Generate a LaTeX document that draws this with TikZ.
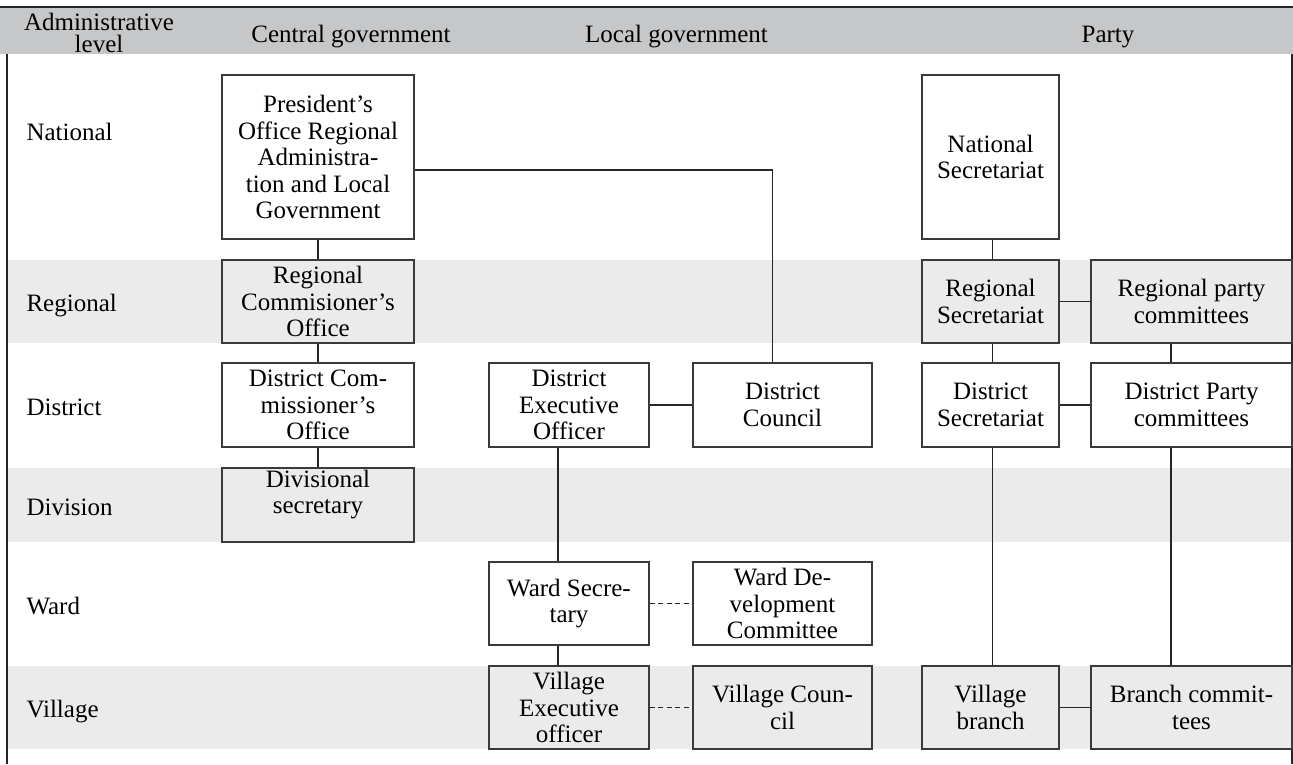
\documentclass[tikz,border=0pt]{standalone}
\usepackage{fontspec}
\setmainfont{Liberation Serif}
\definecolor{hdr}{HTML}{C6C7C9}
\definecolor{band}{HTML}{EBEBEB}
\definecolor{ln}{HTML}{262626}
\definecolor{bx}{HTML}{3A3A3A}
\tikzset{
  txt/.style={font=\fontsize{25}{26.5}\selectfont},
  box/.style={txt, draw=bx, line width=1.6pt, align=center, inner sep=0pt},
  lvl/.style={txt, anchor=base west},
  head/.style={txt, anchor=base},
  conn/.style={draw=ln, line width=1.5pt},
  dconn/.style={conn, dash pattern=on 5pt off 3.5pt},
  border/.style={draw=ln, line width=1.5pt}
}
\begin{document}
\begin{tikzpicture}[x=1pt,y=-1pt]
\useasboundingbox (0,0) rectangle (1293,764);
% bands
\fill[hdr] (0,7) rectangle (1293,54);
\fill[band] (7,260) rectangle (1293,343);
\fill[band] (7,468) rectangle (1293,542);
\fill[band] (7,666) rectangle (1293,749);
\draw[border] (0,7) -- (1293,7);
\draw[border] (7,54) -- (7,764);
\draw[border] (1292.2,54) -- (1292.2,764);
% header texts
\node[txt, align=center, font=\fontsize{25}{22.7}\selectfont] (hadm) at (99,33) {Administrative\\level};
\node[head] (hcen) at (351,42.5) {Central government};
\node[head] (hloc) at (676.5,42.5) {Local government};
\node[head] (hpar) at (1108,42.5) {Party};
% level labels
\node[lvl] (lnat) at (23,140) {National};
\node[lvl] (lreg) at (23,311.5) {Regional};
\node[lvl] (ldis) at (23,415) {District};
\node[lvl] (ldiv) at (23,515) {Division};
\node[lvl] (lwar) at (23,614) {Ward};
\node[lvl] (lvil) at (23,717.5) {Village};
% central government
\node[box, minimum width=192pt, minimum height=164pt] (pres) at (318,157)
  {President’s\\Office Regional\\Administra-\\tion and Local\\Government};
\node[box, minimum width=192pt, minimum height=83pt] (regc) at (318,301.5)
  {Regional\\Commisioner’s\\Office};
\node[box, minimum width=192pt, minimum height=84pt] (distc) at (318,405)
  {District Com-\\missioner’s\\Office};
\node[box, minimum width=192pt, minimum height=74pt] (divs) at (318,505)
  {Divisional\\secretary\\\mbox{}};
% local government
\node[box, minimum width=160pt, minimum height=84pt] (deo) at (569,405)
  {District\\Executive\\Officer};
\node[box, minimum width=179pt, minimum height=84pt] (dcou) at (782.5,405)
  {District\\Council};
\node[box, minimum width=160pt, minimum height=83pt] (wsec) at (569,603.5)
  {Ward Secre-\\tary};
\node[box, minimum width=179pt, minimum height=83pt] (wdc) at (782.5,603.5)
  {Ward De-\\velopment\\Committee};
\node[box, minimum width=160pt, minimum height=83pt] (veo) at (569,707.5)
  {Village\\Executive\\officer};
\node[box, minimum width=179pt, minimum height=83pt] (vcou) at (782.5,707.5)
  {Village Coun-\\cil};
% party
\node[box, minimum width=137pt, minimum height=164pt] (nsec) at (990.5,157)
  {National\\Secretariat};
\node[box, minimum width=137pt, minimum height=83pt] (rsec) at (990.5,301.5)
  {Regional\\Secretariat};
\node[box, minimum width=201pt, minimum height=83pt] (rpc) at (1191.5,301.5)
  {Regional party\\committees};
\node[box, minimum width=137pt, minimum height=84pt] (dsec) at (990.5,405)
  {District\\Secretariat};
\node[box, minimum width=201pt, minimum height=84pt] (dpc) at (1191.5,405)
  {District Party\\committees};
\node[box, minimum width=137pt, minimum height=83pt] (vbr) at (990.5,707.5)
  {Village\\branch};
\node[box, minimum width=201pt, minimum height=83pt] (bcom) at (1191.5,707.5)
  {Branch commit-\\tees};
% helper coordinates
\coordinate (kpc) at (772.7,170);
\coordinate (kdw) at (558,0);
\coordinate (kpp) at (1171,0);
\coordinate (kps) at (992.5,0);
% connectors
\draw[conn] (pres.south) -- (regc.north);
\draw[conn] (regc.south) -- (distc.north);
\draw[conn] (distc.south) -- (divs.north);
\draw[conn] (pres.east |- kpc) -| (dcou.north -| kpc);
\draw[conn] (deo.east) -- (dcou.west);
\draw[conn] (deo.south -| kdw) -- (wsec.north -| kdw);
\draw[conn] (wsec.south -| kdw) -- (veo.north -| kdw);
\draw[dconn] (wsec.east) -- (wdc.west);
\draw[dconn] (veo.east) -- (vcou.west);
\draw[conn] (nsec.south -| kps) -- (rsec.north -| kps);
\draw[conn] (rsec.east) -- (rpc.west);
\draw[conn] (rsec.south -| kps) -- (dsec.north -| kps);
\draw[conn] (rpc.south -| kpp) -- (dpc.north -| kpp);
\draw[conn] (dsec.east) -- (dpc.west);
\draw[conn] (dsec.south -| kps) -- (vbr.north -| kps);
\draw[conn] (dpc.south -| kpp) -- (bcom.north -| kpp);
\draw[conn] (vbr.east) -- (bcom.west);
\end{tikzpicture}
\end{document}
